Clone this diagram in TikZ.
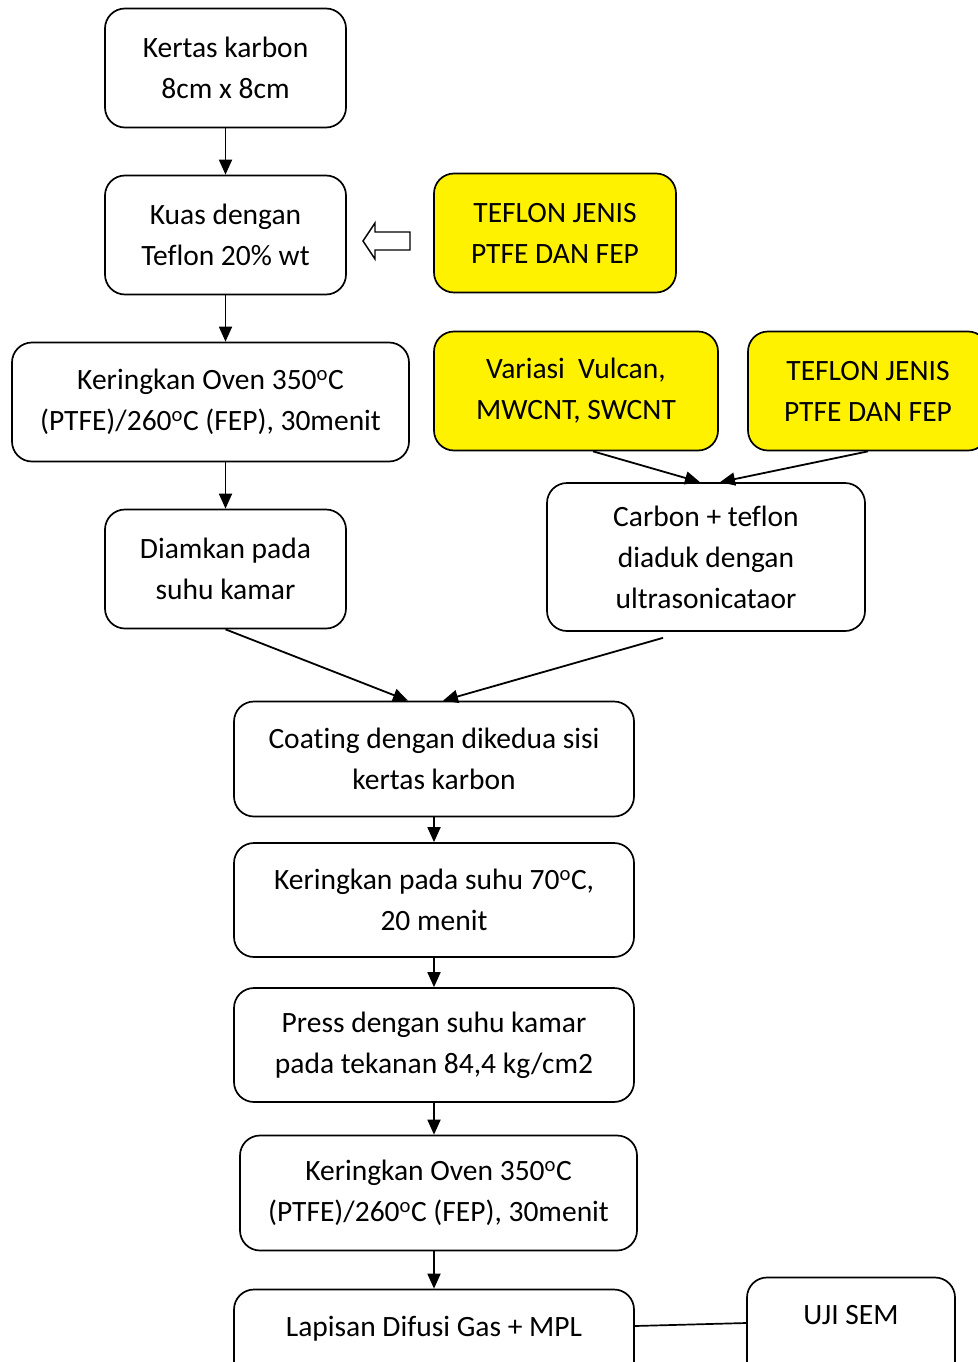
\documentclass[tikz,border=0pt]{standalone}
\usepackage{fontspec}
\setmainfont{Carlito}[Ligatures=NoCommon]
\usetikzlibrary{arrows.meta,calc}

\begin{document}
\begin{tikzpicture}[x=1pt,y=-1pt,
    box/.style={draw, line width=1.7pt, rounded corners=20pt, fill=white, align=center,
        inner sep=0pt, font=\fontsize{29.5}{41}\selectfont},
    note/.style={box, fill=yellow},
    flow/.style={line width=1.8pt, -{Triangle[length=15pt,width=13pt]}}]
    \useasboundingbox (0,0) rectangle (977,1362);
    % left column
    \node[box, minimum width=241, minimum height=119] (kertas) at (225.5,68) {Kertas karbon\\8cm x 8cm};
    \node[box, minimum width=241, minimum height=119] (kuas) at (225.5,235) {Kuas dengan\\Teflon 20\% wt};
    \node[box, minimum width=397, minimum height=119] (oven) at (210.5,402) {Keringkan Oven 350\textsuperscript{o}C\\(PTFE)/260\textsuperscript{o}C (FEP), 30menit};
    \node[box, minimum width=241, minimum height=119] (diam) at (225.5,569) {Diamkan pada\\suhu kamar};
    % right side
    \node[note, minimum width=242, minimum height=119] (teflonA) at (555,233) {TEFLON JENIS\\PTFE DAN FEP};
    \node[note, minimum width=284, minimum height=119] (variasi) at (576,391) {Variasi\ \ Vulcan,\\MWCNT, SWCNT};
    \node[note, minimum width=240, minimum height=119] (teflonB) at (868,391) {TEFLON JENIS\\PTFE DAN FEP};
    \node[box, minimum width=318, minimum height=148] (carbon) at (706,557) {Carbon + teflon\\diaduk dengan\\ultrasonicataor};
    % main column
    \node[box, minimum width=400, minimum height=115] (coating) at (434,759) {Coating dengan dikedua sisi\\kertas karbon};
    \node[box, minimum width=400, minimum height=114] (kering) at (434,900) {Keringkan pada suhu 70\textsuperscript{o}C,\\20 menit};
    \node[box, minimum width=400, minimum height=114] (press) at (434,1045) {Press dengan suhu kamar\\pada tekanan 84,4 kg/cm2};
    \node[box, minimum width=397, minimum height=115] (oven2) at (438.5,1193) {Keringkan Oven 350\textsuperscript{o}C\\(PTFE)/260\textsuperscript{o}C (FEP), 30menit};
    \node[box, minimum width=400, minimum height=115] (lapisan) at (434,1347) {Lapisan Difusi Gas + MPL\\\mbox{}};
    \node[box, minimum width=208, minimum height=115] (ujisem) at (851,1335) {UJI SEM\\\mbox{}};

    % hollow arrow from the teflon note
    \draw[line width=1.4pt, fill=white] (410,232) -- (375,232) -- (375,223) -- (363,241)
        -- (375,259) -- (375,250) -- (410,250) -- cycle;

    \draw[flow] (kertas) -- (kuas);
    \draw[flow] (kuas) -- (kuas.south |- oven.north);
    \draw[flow] (diam.north |- oven.south) -- (diam);
    \draw[flow] ([xshift=17pt]variasi.south) -- ([xshift=-6pt]carbon.north);
    \draw[flow] (teflonB.south) -- ([xshift=14pt]carbon.north);
    \draw[flow] (diam.south) -- ([xshift=-26pt]coating.north);
    \draw[flow] ([xshift=-43pt,yshift=-6pt]carbon.south) -- ([xshift=9pt]coating.north);
    \foreach \a/\b in {coating/kering, kering/press}
        \draw[flow] (\a) -- (\b);
    \draw[flow] (press) -- (press.south |- oven2.north);
    \draw[flow] (lapisan.north |- oven2.south) -- (lapisan);
    \draw[line width=1.7pt] ([yshift=21pt]lapisan.east) -- ([yshift=12pt]ujisem.west);
\end{tikzpicture}
\end{document}
